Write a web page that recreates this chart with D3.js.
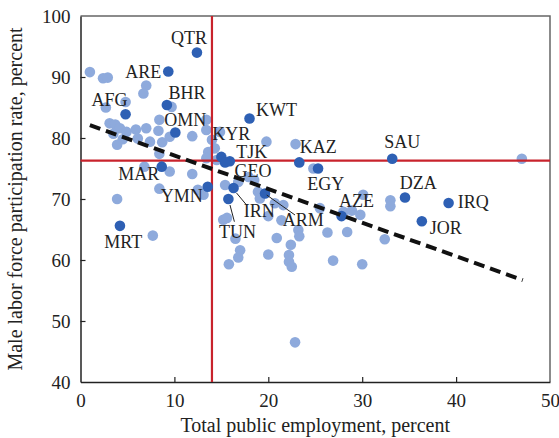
<!DOCTYPE html>
<html>
<head>
<meta charset="utf-8">
<script src="https://cdn.jsdelivr.net/npm/d3@7"></script>
<style>
  html, body { margin: 0; padding: 0; background: #fff; }
  svg { display: block; }
  text { font-family: "Liberation Serif", "DejaVu Serif", serif; fill: #222; }
</style>
</head>
<body>
<svg id="chart" width="559" height="438"></svg>
<script>
// Other countries (light markers): [public employment %, male LFP %]
const otherEmployment = [
  1.0, 2.4, 2.9, 7.0, 6.7, 4.8, 2.7, 9.7, 8.4, 3.1, 3.7, 4.2, 4.9, 5.9, 7.0, 8.3,
  3.5, 4.5, 6.1, 7.4, 8.7, 9.5, 11.9, 13.4, 13.4, 14.0, 3.9, 14.3, 13.6, 8.4, 14.5, 13.4,
  6.8, 9.5, 11.9, 8.4, 12.5, 13.1, 3.9, 7.7,
  15.4, 16.8, 17.9, 18.5, 18.9, 19.1, 20.7, 21.6, 21.4, 20.0, 15.2, 15.6, 16.5, 17.0, 16.8, 15.8,
  20.0, 20.9, 22.4, 22.2, 22.2, 22.5, 23.2, 23.3, 22.85, 19.8, 22.9, 14.85, 24.8,
  25.5, 26.3, 28.0, 28.9, 29.8, 30.1, 28.4, 26.9, 30.0, 32.4, 33.0, 33.0, 47.0
];
const otherParticipation = [
  90.8, 89.8, 89.9, 88.6, 87.3, 85.9, 85.0, 85.1, 83.0, 82.4, 82.2, 81.6, 81.0, 81.4, 81.6, 81.2,
  80.7, 79.8, 79.9, 79.4, 79.3, 80.2, 80.3, 81.3, 83.0, 79.7, 78.9, 78.3, 77.7, 77.4, 76.4, 76.7,
  75.3, 74.5, 74.1, 71.7, 71.5, 70.7, 70.0, 64.0,
  72.3, 72.8, 73.6, 73.1, 71.2, 70.1, 69.3, 69.0, 66.5, 67.2, 66.6, 66.9, 63.5, 61.6, 60.4, 59.3,
  60.9, 63.6, 62.5, 60.8, 59.7, 58.9, 64.9, 63.9, 46.5, 79.4, 79.0, 81.0, 75.0,
  68.5, 64.5, 67.9, 68.1, 67.4, 70.7, 64.6, 59.9, 59.3, 63.4, 69.8, 68.8, 76.6
];

// Highlighted countries (dark markers)
const codes = ["QTR", "ARE", "BHR", "AFG", "OMN", "KWT", "KYR", "TJK", "GEO", "MAR", "YMN", "MRT",
               "TUN", "IRN", "ARM", "KAZ", "EGY", "AZE", "SAU", "DZA", "IRQ", "JOR"];
const codeEmployment = [12.4, 9.35, 9.2, 4.8, 10.1, 18.0, 15.0, 15.9, 15.4, 8.65, 13.55, 4.2,
                        15.75, 16.3, 19.65, 23.3, 25.3, 27.8, 33.2, 34.56, 39.2, 36.35];
const codeParticipation = [94.0, 90.9, 85.4, 83.9, 80.9, 83.2, 76.9, 76.2, 76.0, 75.3, 72.0, 65.6,
                           70.0, 71.8, 70.9, 76.0, 75.0, 67.2, 76.6, 70.25, 69.35, 66.35];

// Reference lines (averages) and fitted trend
const refEmployment = 14.0;
const refParticipation = 76.3;
const trendX = [1.0, 47.1];
const trendY = [82.1, 56.7];

const xTicks = [0, 10, 20, 30, 40, 50];
const yTicks = [40, 50, 60, 70, 80, 90, 100];

// Label placement relative to each highlighted marker: [dx, dy]
const labelOffset = {
  QTR: [-8, -8.5], ARE: [-25, 6.5], BHR: [20, -6], AFG: [-16, -8], OMN: [10, -6.5],
  KWT: [27, -2], KYR: [10, -17], TJK: [22, -3.5], GEO: [28, 14.2], MAR: [-23, 13.3],
  YMN: [-26, 15], MRT: [3.4, 22.5], TUN: [9, 39], IRN: [25.6, 28.7], ARM: [38.3, 32.5],
  KAZ: [19, -9], EGY: [7.7, 21.5], AZE: [15, -9.4], SAU: [10, -10.4], DZA: [13.3, -8],
  IRQ: [24.7, 5.3], JOR: [24, 12.7]
};
// Leader lines: [x1, y1, x2, y2] relative to the marker
const leaders = {
  IRN: [3, 5, 13, 17],
  TUN: [1.6, 6, 6, 22.7],
  ARM: [1.7, 1.5, 30, 21.5]
};

const light = "#8eaadc";
const dark = "#2e60b4";
const red = "#c8232c";

const svg = d3.select("#chart");
const margin = { left: 80.5, top: 16, right: 9, bottom: 56 };
const W = 559, H = 438;

const x = d3.scaleLinear().domain([0, 50]).range([margin.left, W - margin.right]);
const y = d3.scaleLinear().domain([40, 100]).range([H - margin.bottom, margin.top]);

const x0 = x.range()[0], x1 = x.range()[1];
const yTop = y.range()[1], yBot = y.range()[0];

// Frame: top and right borders
svg.append("path")
  .attr("d", `M${x0},${yTop}H${x1}V${yBot}`)
  .attr("fill", "none").attr("stroke", "#666").attr("stroke-width", 1.5);

// Axes with inward ticks
const xAxis = svg.append("g").attr("transform", `translate(0,${yBot})`)
  .call(d3.axisBottom(x).tickValues(xTicks).tickSizeInner(-5).tickSizeOuter(0).tickPadding(12));
const yAxis = svg.append("g").attr("transform", `translate(${x0},0)`)
  .call(d3.axisLeft(y).tickValues(yTicks).tickSizeInner(-5).tickSizeOuter(0).tickPadding(10));

[xAxis, yAxis].forEach(g => {
  g.select(".domain").attr("stroke", "#222").attr("stroke-width", 1.5);
  g.selectAll(".tick line").attr("stroke", "#222").attr("stroke-width", 1.2);
  g.selectAll(".tick text").style("font-size", "19px").attr("fill", "#222")
    .style("font-family", '"Liberation Serif", serif');
});
xAxis.selectAll(".tick").filter(d => d === 0 || d === 50).select("line").remove();
yAxis.selectAll(".tick").filter(d => d === 40 || d === 100).select("line").remove();

// Axis titles
svg.append("text")
  .attr("x", (x0 + x1) / 2).attr("y", 432)
  .attr("text-anchor", "middle").style("font-size", "20px")
  .text("Total public employment, percent");
svg.append("text")
  .attr("transform", `translate(22,${(yTop + yBot) / 2}) rotate(-90)`)
  .attr("text-anchor", "middle").style("font-size", "20px")
  .text("Male labor force participation rate, percent");

// Markers: other countries
svg.append("g").selectAll("circle")
  .data(otherEmployment.map((e, i) => [e, otherParticipation[i]]))
  .join("circle")
  .attr("cx", d => x(d[0])).attr("cy", d => y(d[1])).attr("r", 5.3)
  .attr("fill", light);

// Reference lines
svg.append("line")
  .attr("x1", x(refEmployment)).attr("x2", x(refEmployment))
  .attr("y1", yTop).attr("y2", yBot)
  .attr("stroke", red).attr("stroke-width", 2.2);
svg.append("line")
  .attr("x1", x0).attr("x2", x1)
  .attr("y1", y(refParticipation)).attr("y2", y(refParticipation))
  .attr("stroke", red).attr("stroke-width", 2.2);

// Highlighted markers
const hi = codes.map((c, i) => ({ code: c, e: codeEmployment[i], p: codeParticipation[i] }));
svg.append("g").selectAll("circle")
  .data(hi).join("circle")
  .attr("cx", d => x(d.e)).attr("cy", d => y(d.p)).attr("r", 5.3)
  .attr("fill", dark);

// Trend line
svg.append("line")
  .attr("x1", x(trendX[0])).attr("y1", y(trendY[0]))
  .attr("x2", x(trendX[1])).attr("y2", y(trendY[1]))
  .attr("stroke", "#111").attr("stroke-width", 4)
  .attr("stroke-dasharray", "11,6");

// Leader lines
svg.append("g").selectAll("line")
  .data(hi.filter(d => leaders[d.code])).join("line")
  .attr("x1", d => x(d.e) + leaders[d.code][0]).attr("y1", d => y(d.p) + leaders[d.code][1])
  .attr("x2", d => x(d.e) + leaders[d.code][2]).attr("y2", d => y(d.p) + leaders[d.code][3])
  .attr("stroke", "#222").attr("stroke-width", 1);

// Country labels
svg.append("g").selectAll("text")
  .data(hi).join("text")
  .attr("x", d => x(d.e) + labelOffset[d.code][0])
  .attr("y", d => y(d.p) + labelOffset[d.code][1])
  .attr("text-anchor", "middle").style("font-size", "18px")
  .text(d => d.code);
</script>
</body>
</html>
